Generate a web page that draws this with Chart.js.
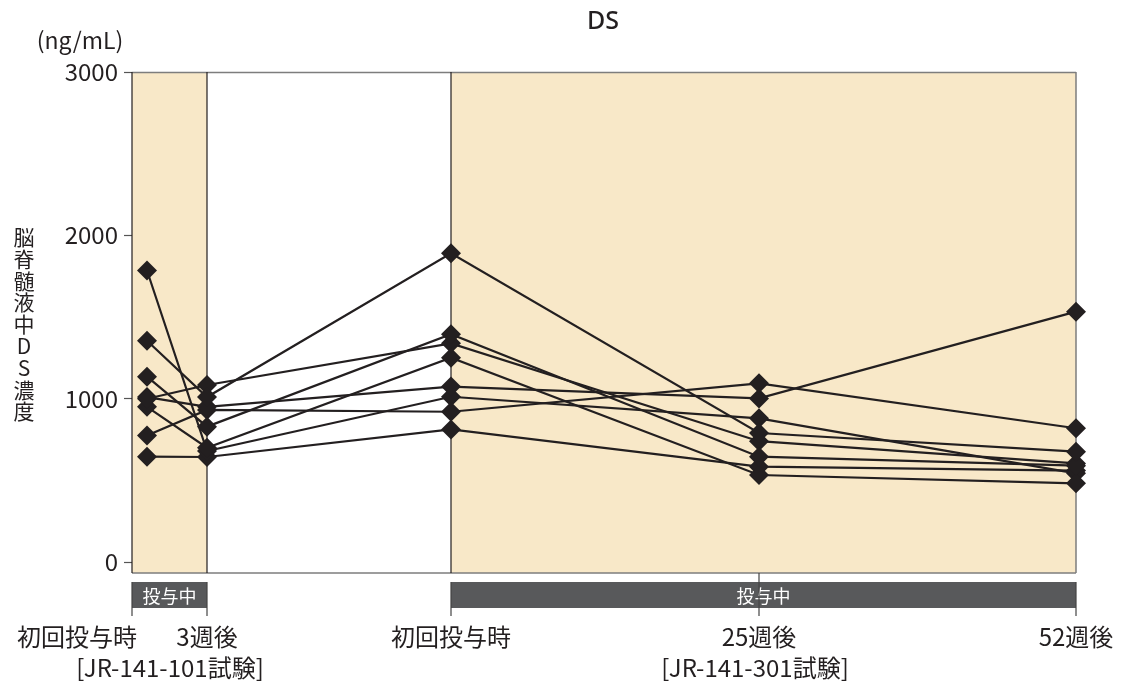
<!DOCTYPE html>
<html>
<head>
<meta charset="utf-8">
<script src="https://cdn.jsdelivr.net/npm/chart.js@4/dist/chart.umd.min.js"></script>
<style>
  html, body { margin: 0; padding: 0; background: #fff; }
  #wrap { width: 1124px; height: 686px; }
</style>
</head>
<body>
<div id="wrap"><canvas id="dsChart" width="1124" height="686"></canvas></div>
<script>
// DS concentration in CSF, per patient
const FONT = '"Noto Sans CJK JP", "Noto Sans", sans-serif';
const timeLabels = ['初回投与時', '3週後', '初回投与時', '25週後', '52週後'];
const timePos = [1.5, 7.5, 31.9, 62.7, 94.4]; // position on the broken time axis
const studyLabels = ['[JR-141-101試験]', '[JR-141-301試験]'];
const yTicks = [0, 1000, 2000, 3000];

const pt1 = [1355, 1010, 1890, 790, 676];
const pt2 = [1135, 829, 1395, 645, 590];
const pt3 = [1000, 1084, 1339, 740, 604];
const pt4 = [950, 700, 1251, 533, 482];
const pt5 = [1010, 950, 1074, 1002, 1533];
const pt6 = [1785, 680, 1012, 880, 543];
const pt7 = [775, 931, 920, 1094, 819];
const pt8 = [645, 643, 812, 584, 560];
const patients = [pt1, pt2, pt3, pt4, pt5, pt6, pt7, pt8];

const INK = '#231f20';
const BEIGE = '#f8e8c8';
const BAR = '#58595b';

const datasets = patients.map(vals => ({
  data: vals.map((v, i) => ({ x: timePos[i], y: v })),
  borderColor: INK,
  borderWidth: 2.2,
  pointStyle: 'rectRot',
  pointRadius: 10,
  pointBackgroundColor: INK,
  pointBorderColor: INK,
  pointBorderWidth: 0,
  tension: 0,
  clip: false
}));

const framePlugin = {
  id: 'frame',
  beforeDatasetsDraw(chart) {
    const { ctx, chartArea: a, scales: { x } } = chart;
    const px = timePos.map(t => x.getPixelForValue(t));
    ctx.save();
    // shaded dosing periods
    ctx.fillStyle = BEIGE;
    ctx.fillRect(a.left, a.top, px[1] - a.left, a.bottom - a.top);
    ctx.fillRect(px[2], a.top, a.right - px[2], a.bottom - a.top);
    // top & bottom lines
    ctx.strokeStyle = '#7d7d7d';
    ctx.lineWidth = 1.5;
    ctx.beginPath();
    ctx.moveTo(a.left, a.top + 0.5); ctx.lineTo(a.right, a.top + 0.5);
    ctx.moveTo(a.left, a.bottom); ctx.lineTo(a.right, a.bottom);
    ctx.stroke();
    // region borders
    ctx.strokeStyle = INK;
    ctx.lineWidth = 1.2;
    ctx.beginPath();
    [a.left, px[1], px[2]].forEach(p => { ctx.moveTo(p, a.top); ctx.lineTo(p, a.bottom); });
    ctx.stroke();
    ctx.strokeStyle = '#7d7d7d';
    ctx.lineWidth = 1.5;
    ctx.beginPath();
    ctx.moveTo(a.right, a.top); ctx.lineTo(a.right, a.bottom);
    ctx.stroke();
    ctx.restore();
  },
  afterDraw(chart) {
    const { ctx, chartArea: a, scales: { x } } = chart;
    const px = timePos.map(t => x.getPixelForValue(t));
    ctx.save();
    // dosing bars
    const barTop = a.bottom + 9, barH = 26;
    ctx.fillStyle = BAR;
    ctx.fillRect(a.left, barTop, px[1] - a.left, barH);
    ctx.fillRect(px[2], barTop, a.right - px[2], barH);
    ctx.fillStyle = '#fff';
    ctx.font = '18px ' + FONT;
    ctx.textAlign = 'center';
    ctx.textBaseline = 'middle';
    ctx.fillText('投与中', (a.left + px[1]) / 2, barTop + barH / 2 + 1);
    ctx.fillText('投与中', (px[2] + a.right) / 2, barTop + barH / 2 + 1);
    // ticks under the bars
    ctx.strokeStyle = '#444';
    ctx.lineWidth = 1.2;
    ctx.beginPath();
    [a.left, px[1], px[2], a.right].forEach(p => { ctx.moveTo(p, barTop); ctx.lineTo(p, barTop + barH + 8); });
    ctx.moveTo(px[3], a.bottom); ctx.lineTo(px[3], barTop + barH + 8);
    ctx.stroke();
    // time labels
    ctx.fillStyle = INK;
    ctx.font = '24px ' + FONT;
    ctx.textBaseline = 'middle';
    const ly = 637;
    ctx.textAlign = 'right';
    ctx.fillText(timeLabels[0], a.left + 5, ly);
    ctx.textAlign = 'center';
    for (let i = 1; i < timeLabels.length; i++) ctx.fillText(timeLabels[i], px[i], ly);
    ctx.fillText(studyLabels[0], 170, 668);
    ctx.fillText(studyLabels[1], px[3] - 4, 668);
    // title + unit
    ctx.font = '500 25px "Noto Sans", sans-serif';
    ctx.fillText('DS', 603, 22);
    ctx.font = '23px ' + FONT;
    ctx.fillText('(ng/mL)', 80, 40);
    // vertical axis title, stacked characters
    const yTitle = '脳脊髄液中DS濃度';
    ctx.font = '21px ' + FONT;
    [...yTitle].forEach((ch, i) => ctx.fillText(ch, 24, 237 + i * 21.8));
    ctx.restore();
  }
};

new Chart(document.getElementById('dsChart'), {
  type: 'line',
  data: { datasets },
  options: {
    responsive: false,
    animation: false,
    layout: { padding: { top: 72, right: 48, bottom: 113, left: 0 } },
    plugins: { legend: { display: false }, tooltip: { enabled: false } },
    scales: {
      x: { type: 'linear', min: 0, max: 94.4, display: false },
      y: {
        min: -67, max: 3000,
        afterBuildTicks: s => { s.ticks = yTicks.map(v => ({ value: v })); },
        afterFit: s => { s.width = 132; },
        border: { display: false },
        grid: { drawOnChartArea: false, tickLength: 8, color: '#555', tickWidth: 1.2 },
        ticks: { color: INK, padding: 6, font: { family: FONT, size: 24 }, callback: v => String(v) }
      }
    }
  },
  plugins: [framePlugin]
});
</script>
</body>
</html>
